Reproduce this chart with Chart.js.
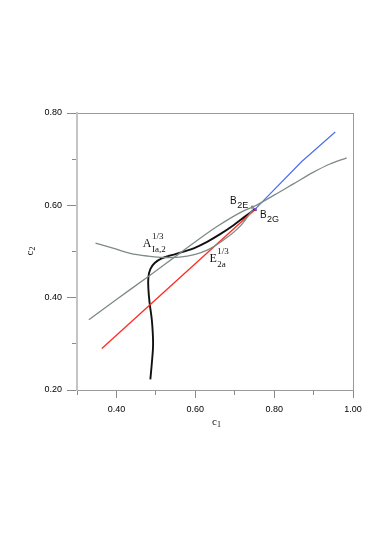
<!DOCTYPE html>
<html>
<head>
<meta charset="utf-8">
<script src="https://cdn.jsdelivr.net/npm/chart.js@4.4.0/dist/chart.umd.min.js"></script>
<style>
  body { margin: 0; background: #fff; }
  canvas { display: block; }
</style>
</head>
<body>
<canvas id="myChart" width="382" height="539"></canvas>
<script>
// axis ranges and ticks
const xMin = 0.3, xMax = 1.0, yMin = 0.2, yMax = 0.8;
const xMajorTicks = [0.4, 0.6, 0.8, 1.0];
const xMinorTicks = [0.3, 0.5, 0.7, 0.9];
const yMajorTicks = [0.2, 0.4, 0.6, 0.8];
const yMinorTicks = [0.3, 0.5, 0.7];

// black curve (A 1/3 Ia,2 branch)
const blackX = [0.486, 0.490, 0.493, 0.490, 0.484, 0.481, 0.481, 0.486, 0.497, 0.515, 0.540, 0.568, 0.596, 0.630, 0.662, 0.697, 0.725, 0.750];
const blackY = [0.223, 0.260, 0.300, 0.350, 0.390, 0.420, 0.444, 0.462, 0.475, 0.485, 0.492, 0.499, 0.507, 0.521, 0.537, 0.557, 0.575, 0.591];

// red line (E 1/3 2a)
const redX = [0.363, 0.750];
const redY = [0.290, 0.590];

// blue line beyond B2G
const blueX = [0.750, 0.870, 0.955];
const blueY = [0.590, 0.695, 0.759];

// long gray curve
const grayAX = [0.330, 0.400, 0.481, 0.562, 0.655, 0.720, 0.750, 0.800, 0.850, 0.900, 0.940, 0.984];
const grayAY = [0.352, 0.396, 0.446, 0.497, 0.554, 0.587, 0.598, 0.622, 0.647, 0.672, 0.689, 0.703];

// U-shaped gray curve
const grayBX = [0.347, 0.400, 0.435, 0.480, 0.519, 0.560, 0.600, 0.630, 0.670, 0.714, 0.745];
const grayBY = [0.518, 0.505, 0.496, 0.490, 0.487, 0.488, 0.494, 0.503, 0.524, 0.555, 0.590];

// points B2E and B2G
const b2eX = [0.745], b2eY = [0.596];
const b2gX = [0.752], b2gY = [0.591];

// text annotations
const notes = [
    {base: 'B', sub: '2E', x: 0.688, y: 0.603, serif: false},
    {base: 'B', sub: '2G', x: 0.764, y: 0.5725, serif: false},
    {base: 'A', sup: '1/3', sub: 'Ia,2', x: 0.467, y: 0.510, serif: true},
    {base: 'E', sup: '1/3', sub: '2a', x: 0.636, y: 0.478, serif: true}
];

function pts(xs, ys) {
    return xs.map((x, i) => ({x: x, y: ys[i]}));
}

function lineSet(xs, ys, color, width, tension, mono) {
    return {
        data: pts(xs, ys),
        showLine: true,
        borderColor: color,
        borderWidth: width,
        pointRadius: 0,
        tension: tension,
        cubicInterpolationMode: mono ? 'monotone' : 'default',
        fill: false
    };
}

const SANS = '"Liberation Sans", Arial, Helvetica, sans-serif';
const SERIF = '"Liberation Serif", "Times New Roman", serif';

const textPlugin = {
    id: 'textPlugin',
    afterDraw(chart) {
        const ctx = chart.ctx;
        const xs = chart.scales.x, ys = chart.scales.y;
        ctx.save();
        ctx.fillStyle = '#111';
        ctx.textBaseline = 'alphabetic';
        ctx.textAlign = 'left';
        notes.forEach(n => {
            const px = xs.getPixelForValue(n.x);
            const py = ys.getPixelForValue(n.y);
            const fam = n.serif ? SERIF : SANS;
            ctx.font = (n.serif ? '12px ' : '10px ') + fam;
            ctx.fillText(n.base, px, py);
            const w = ctx.measureText(n.base).width;
            ctx.font = '9px ' + fam;
            if (n.sup) ctx.fillText(n.sup, px + w + 0.5, py - 8);
            if (n.sub) ctx.fillText(n.sub, px + w + 0.5, py + (n.serif ? 5.5 : 4));
        });

        // axis titles
        const area = chart.chartArea;
        const cx = (area.left + area.right) / 2 - 3;
        ctx.font = '11px ' + SERIF;
        ctx.fillText('c', cx, 425);
        ctx.font = '8px ' + SERIF;
        ctx.fillText('1', cx + 5, 427);

        ctx.translate(33, (area.top + area.bottom) / 2 + 4);
        ctx.rotate(-Math.PI / 2);
        ctx.font = '11px ' + SERIF;
        ctx.fillText('c', 0, 0);
        ctx.font = '8px ' + SERIF;
        ctx.fillText('2', 5, 2);
        ctx.restore();
    }
};

function fixTicks(list) {
    return scale => { scale.ticks = list.map(v => ({value: v})); };
}

const tickFont = {family: SANS, size: 9};

const ctx = document.getElementById('myChart').getContext('2d');
new Chart(ctx, {
    type: 'scatter',
    data: {
        datasets: [
            lineSet(grayAX, grayAY, '#7d8a86', 1.3, 0.4, true),
            lineSet(grayBX, grayBY, '#7d8a86', 1.3, 0.4, true),
            lineSet(redX, redY, '#ff2a1f', 1.3, 0, false),
            lineSet(blueX, blueY, '#4d6ef0', 1.2, 0, false),
            lineSet(blackX, blackY, '#111111', 1.9, 0.35, false),
            {
                data: pts(b2eX, b2eY),
                pointStyle: 'rect',
                pointRadius: 2.2,
                backgroundColor: '#8c8c8c',
                borderColor: '#8c8c8c',
                borderWidth: 0
            },
            {
                data: pts(b2gX, b2gY),
                pointStyle: 'rect',
                pointRadius: 2.2,
                backgroundColor: '#6a3fc8',
                borderColor: '#6a3fc8',
                borderWidth: 0
            }
        ]
    },
    options: {
        responsive: false,
        animation: false,
        layout: {padding: {top: 113, right: 29, bottom: 110, left: 0}},
        plugins: {
            legend: {display: false},
            tooltip: {enabled: false}
        },
        scales: {
            x: {
                type: 'linear', position: 'bottom', weight: 1,
                min: xMin, max: xMax,
                afterBuildTicks: fixTicks(xMajorTicks),
                afterFit: s => { s.height = 39; },
                grid: {drawOnChartArea: false, tickLength: 8, tickColor: '#8a8a8a'},
                border: {color: '#9a9a9a', width: 1},
                ticks: {font: tickFont, color: '#000', padding: 6, maxRotation: 0,
                    callback: v => v.toFixed(2)}
            },
            xMinor: {
                type: 'linear', position: 'bottom', weight: 0,
                min: xMin, max: xMax,
                afterBuildTicks: fixTicks(xMinorTicks),
                afterFit: s => { s.height = 0; },
                grid: {drawOnChartArea: false, tickLength: 5, tickColor: '#8a8a8a'},
                border: {display: false},
                ticks: {display: false}
            },
            xTop: {
                type: 'linear', position: 'top',
                min: xMin, max: xMax,
                afterFit: s => { s.height = 0; },
                grid: {drawOnChartArea: false, drawTicks: false},
                border: {color: '#9a9a9a', width: 1},
                ticks: {display: false}
            },
            y: {
                type: 'linear', position: 'left', weight: 1,
                min: yMin, max: yMax,
                afterBuildTicks: fixTicks(yMajorTicks),
                afterFit: s => { s.width = 77; },
                grid: {drawOnChartArea: false, tickLength: 10, tickColor: '#8a8a8a'},
                border: {color: '#c4c4c4', width: 2},
                ticks: {font: tickFont, color: '#000', padding: 5,
                    callback: v => v.toFixed(2)}
            },
            yMinor: {
                type: 'linear', position: 'left', weight: 0,
                min: yMin, max: yMax,
                afterBuildTicks: fixTicks(yMinorTicks),
                afterFit: s => { s.width = 0; },
                grid: {drawOnChartArea: false, tickLength: 5, tickColor: '#8a8a8a'},
                border: {display: false},
                ticks: {display: false}
            },
            yRight: {
                type: 'linear', position: 'right',
                min: yMin, max: yMax,
                afterFit: s => { s.width = 0; },
                grid: {drawOnChartArea: false, drawTicks: false},
                border: {color: '#9a9a9a', width: 1},
                ticks: {display: false}
            }
        }
    },
    plugins: [textPlugin]
});
</script>
</body>
</html>
